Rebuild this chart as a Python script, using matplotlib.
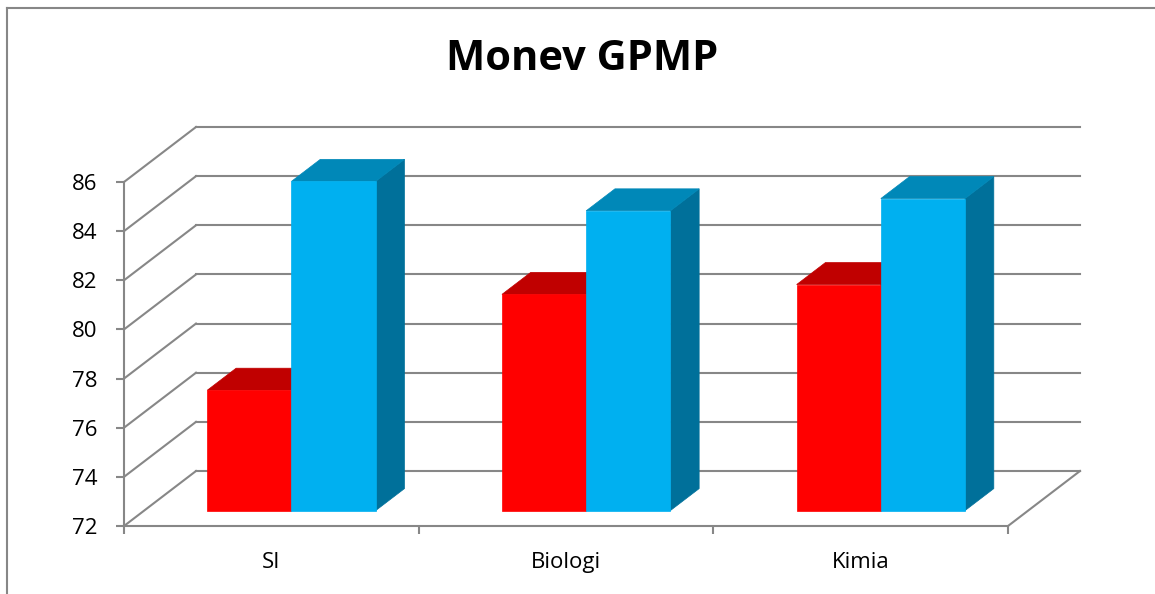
import matplotlib.pyplot as plt
from matplotlib.patches import Polygon
from matplotlib.lines import Line2D

plt.rcParams['font.family'] = ['Open Sans', 'DejaVu Sans']

# data
categories = ['SI', 'Biologi', 'Kimia']
series_red = [76.9, 80.8, 81.2]
series_blue = [85.4, 84.2, 84.7]
yticks = [72, 74, 76, 78, 80, 82, 84, 86]

# look
grid_col = '#878787'
red_faces = ('#FF0000', '#C00000', '#A00000')      # front, top, side
blue_faces = ('#00B0F0', '#0088B8', '#00709A')

W, H = 1155, 594
fig = plt.figure(figsize=(W / 100, H / 100), dpi=100)
ax = fig.add_axes([124 / W, (H - 526) / H, (1008 - 124) / W, (526 - 182) / H])
ax.set_xlim(0, 3)
ax.set_ylim(72, 86)

# depth of the 3d box in data units
DX = 72 / (884 / 3)
DY = 55 / (344 / 14)
# bar depth range (fraction of full depth), bar width
f0, f1 = 0.28, 0.68
bw = 1 / 3.5


def proj(x, y, f):
    return (x + DX * f, y + DY * f)


# back wall gridlines and side wall diagonals
for v in yticks:
    ax.add_line(Line2D([DX, 3 + DX], [v + DY, v + DY], color=grid_col, lw=1.5,
                       clip_on=False, zorder=1))
    ax.add_line(Line2D([0, DX], [v, v + DY], color=grid_col, lw=1.5,
                       clip_on=False, zorder=1))
# floor right edge
ax.add_line(Line2D([3, 3 + DX], [72, 72 + DY], color=grid_col, lw=1.5,
                   clip_on=False, zorder=1))


def draw_bar(x0, val, faces):
    x1 = x0 + bw
    base = 72
    front = [proj(x0, base, f0), proj(x1, base, f0), proj(x1, val, f0), proj(x0, val, f0)]
    top = [proj(x0, val, f0), proj(x1, val, f0), proj(x1, val, f1), proj(x0, val, f1)]
    side = [proj(x1, base, f0), proj(x1, base, f1), proj(x1, val, f1), proj(x1, val, f0)]
    for pts, c in ((side, faces[2]), (top, faces[1]), (front, faces[0])):
        ax.add_patch(Polygon(pts, closed=True, facecolor=c, edgecolor=c, lw=0.5,
                             clip_on=False, zorder=3))


for i in range(len(categories)):
    start = i + (1 - 2 * bw) / 2
    draw_bar(start, series_red[i], red_faces)
    draw_bar(start + bw, series_blue[i], blue_faces)

# axes
for s in ['top', 'right']:
    ax.spines[s].set_visible(False)
for s in ['left', 'bottom']:
    ax.spines[s].set_color(grid_col)
    ax.spines[s].set_linewidth(1.5)
    ax.spines[s].set_zorder(2)
ax.set_yticks(yticks)
ax.set_yticklabels([str(v) for v in yticks])
ax.set_xticks([0, 1, 2, 3])
ax.set_xticklabels([])
ax.set_xticks([0.5, 1.5, 2.5], minor=True)
ax.set_xticklabels(categories, minor=True)
ax.tick_params(axis='y', direction='out', length=6, width=1.5, color=grid_col,
               labelsize=16, pad=13)
ax.tick_params(axis='x', which='major', direction='out', length=6, width=1.5,
               color=grid_col)
ax.tick_params(axis='x', which='minor', length=0, labelsize=16, pad=19)
ax.patch.set_visible(False)

fig.text(582 / W, 1 - 60 / H, 'Monev GPMP', ha='center', va='center',
         fontsize=30, fontweight='bold')

# chart frame (only top and left edge visible)
fig.add_artist(Line2D([7 / W, 1], [1 - 8 / H, 1 - 8 / H], color=grid_col, lw=1.5,
                      transform=fig.transFigure))
fig.add_artist(Line2D([7 / W, 7 / W], [0, 1 - 8 / H], color=grid_col, lw=1.5,
                      transform=fig.transFigure))

fig.savefig('out.png', dpi=100)
